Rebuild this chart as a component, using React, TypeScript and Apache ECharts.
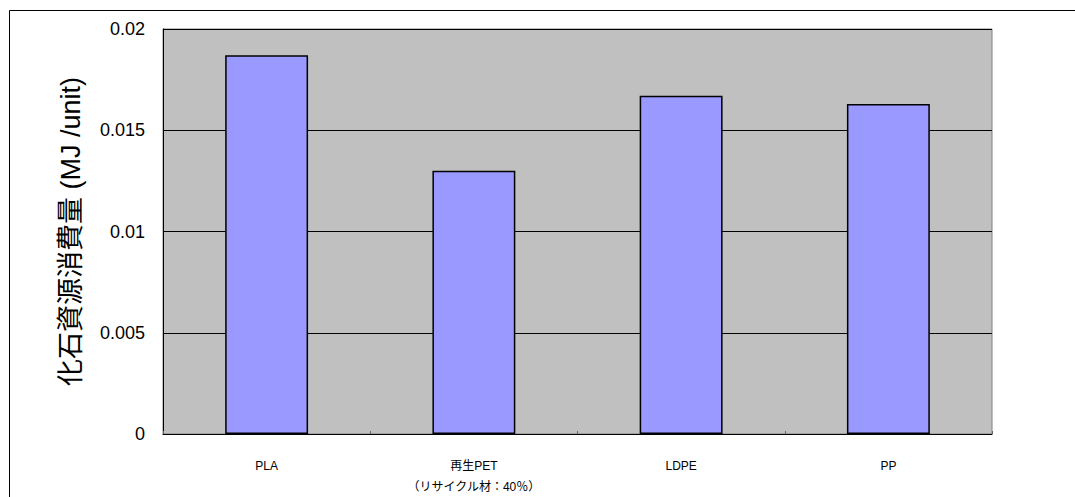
import React, { useEffect, useRef } from "react";
import * as echarts from "echarts";

const categories = ["PLA", "再生PET\n（リサイクル材：40％）", "LDPE", "PP"];
const values = [0.0187, 0.0130, 0.0167, 0.0163];
const yTicks = [0, 0.005, 0.01, 0.015, 0.02];
const yName = "化石資源消費量 (MJ /unit)";

export default function App() {
  const ref = useRef<HTMLDivElement>(null);
  useEffect(() => {
    const chart = echarts.init(ref.current!, null, { renderer: "svg" });
    chart.setOption({
      animation: false,
      graphic: [
        {
          type: "rect",
          shape: { x: 9.5, y: 10.5, width: 1080, height: 500 },
          style: { fill: "none", stroke: "#000", lineWidth: 1 },
          silent: true,
          z: -10,
        },
      ],
      grid: {
        left: 163,
        top: 29,
        right: 83,
        bottom: 53,
        show: true,
        backgroundColor: "#c0c0c0",
        borderColor: "#808080",
        borderWidth: 1,
      },
      xAxis: {
        type: "category",
        data: categories,
        axisLine: { lineStyle: { color: "#000", width: 1 } },
        axisTick: { show: true, inside: true, length: 3, lineStyle: { color: "#666" } },
        axisLabel: {
          margin: 21,
          fontFamily: "Liberation Sans, Noto Sans CJK JP",
          fontSize: 12,
          color: "#000",
          lineHeight: 21,
          formatter: (v: string) => {
            const parts = v.split("\n");
            if (parts.length === 1) return "{a|" + parts[0] + "}";
            return "{a|" + parts[0] + "}\n{b|" + parts[1] + "}";
          },
          rich: {
            a: { fontSize: 12, lineHeight: 21, fontFamily: "Liberation Sans, Noto Sans CJK JP", color: "#000" },
            b: { fontSize: 12, lineHeight: 21, fontFamily: "Liberation Sans, Noto Sans CJK JP", color: "#000" },
          },
        },
      },
      yAxis: {
        type: "value",
        min: yTicks[0],
        max: yTicks[yTicks.length - 1],
        interval: 0.005,
        name: yName,
        nameLocation: "middle",
        nameGap: 79,
        nameTextStyle: {
          fontSize: 27,
          fontFamily: "Liberation Sans, Noto Sans CJK JP",
          color: "#000",
        },
        axisLine: { show: true, lineStyle: { color: "#000", width: 1 } },
        axisTick: { show: true, inside: true, length: 5, lineStyle: { color: "#000" } },
        axisLabel: {
          margin: 18,
          fontSize: 18,
          fontFamily: "Liberation Sans",
          color: "#000",
          formatter: (v: number) => String(parseFloat(v.toFixed(4))),
        },
        splitLine: { show: true, lineStyle: { color: "#000", width: 1 } },
      },
      series: [
        {
          type: "bar",
          data: values,
          barWidth: "40%",
          itemStyle: { color: "#9999ff", borderColor: "#000", borderWidth: 1.5 },
        },
      ],
    });
    return () => chart.dispose();
  }, []);
  return (
    <div
      ref={ref}
      style={{ position: "fixed", left: 0, top: 0, width: 1075, height: 497, background: "#fff" }}
    />
  );
}
